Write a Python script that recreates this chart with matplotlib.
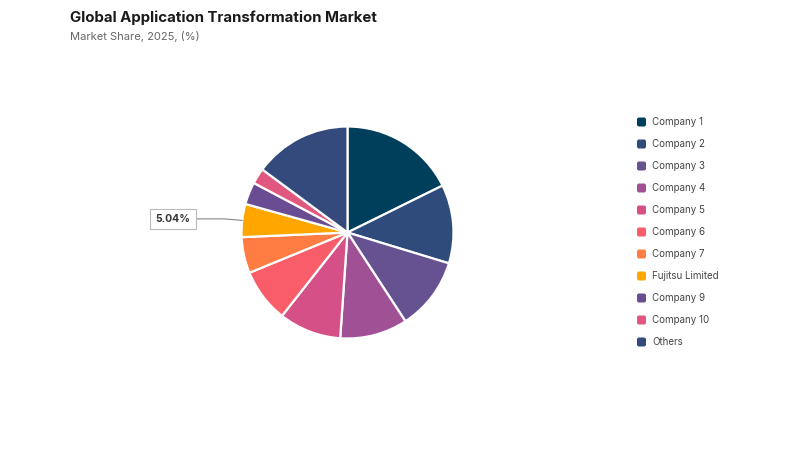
import numpy as np
import matplotlib
matplotlib.use("Agg")
import matplotlib.pyplot as plt
from matplotlib.patches import FancyBboxPatch

plt.rcParams['font.family'] = ['Inter', 'DejaVu Sans']

title = "Global Application Transformation Market"
subtitle = "Market Share, 2025, (%)"
companies = ["Company 1", "Company 2", "Company 3", "Company 4", "Company 5",
             "Company 6", "Company 7", "Fujitsu Limited", "Company 9",
             "Company 10", "Others"]
shares = [17.7, 12.0, 11.1, 10.3, 9.5, 8.2, 5.5, 5.04, 3.4, 2.4, 14.86]
colors = ["#003f5c", "#2f4b7c", "#665191", "#a05195", "#d45087", "#f95d6a",
          "#ff7c43", "#ffa600", "#6a4c93", "#e05780", "#344a7c"]
labelled = "Fujitsu Limited"

W, H = 800, 450
fig = plt.figure(figsize=(8, 4.5), dpi=100)
ax = fig.add_axes([0, 0, 1, 1])

cx, cy, r = 347.5, H - 232.5, 106
wedges, _ = ax.pie(shares, colors=colors, startangle=90, counterclock=False,
                   center=(cx, cy), radius=r, frame=True,
                   wedgeprops=dict(edgecolor="white", linewidth=1.6))
ax.set_xlim(0, W)
ax.set_ylim(0, H)
ax.set_aspect("equal")
ax.axis("off")

# Label for the highlighted slice
i = companies.index(labelled)
w = wedges[i]
mid = np.deg2rad((w.theta1 + w.theta2) / 2)
px, py = cx + r * np.cos(mid), cy + r * np.sin(mid)
ax.plot([px, px - 18, 193], [py, py + 1.5, py + 1.5], color="#888888", lw=0.8)
ax.text(173, py + 1.5, f"{shares[i]:.2f}%", ha="center", va="center",
        fontsize=7.5, fontweight="bold", color="#333333",
        bbox=dict(boxstyle="square,pad=0.5", fc="white", ec="#bbbbbb", lw=0.8))

# Titles
fig.text(70 / W, 1 - 18 / H, title, fontsize=10.8, fontweight="bold",
         color="#1a1a1a", va="center", ha="left")
fig.text(70 / W, 1 - 37 / H, subtitle, fontsize=8, color="#666666",
         va="center", ha="left")

# Legend
ly0, dy = H - 122, 22
for k, (name, col) in enumerate(zip(companies, colors)):
    y = ly0 - k * dy
    ax.add_patch(FancyBboxPatch((637, y - 4.5), 9, 9,
                                boxstyle="round,pad=0,rounding_size=2",
                                fc=col, ec="none"))
    ax.text(652, y, name, fontsize=7, color="#444444", va="center", ha="left")

fig.savefig("out.png", dpi=100, facecolor="white")
